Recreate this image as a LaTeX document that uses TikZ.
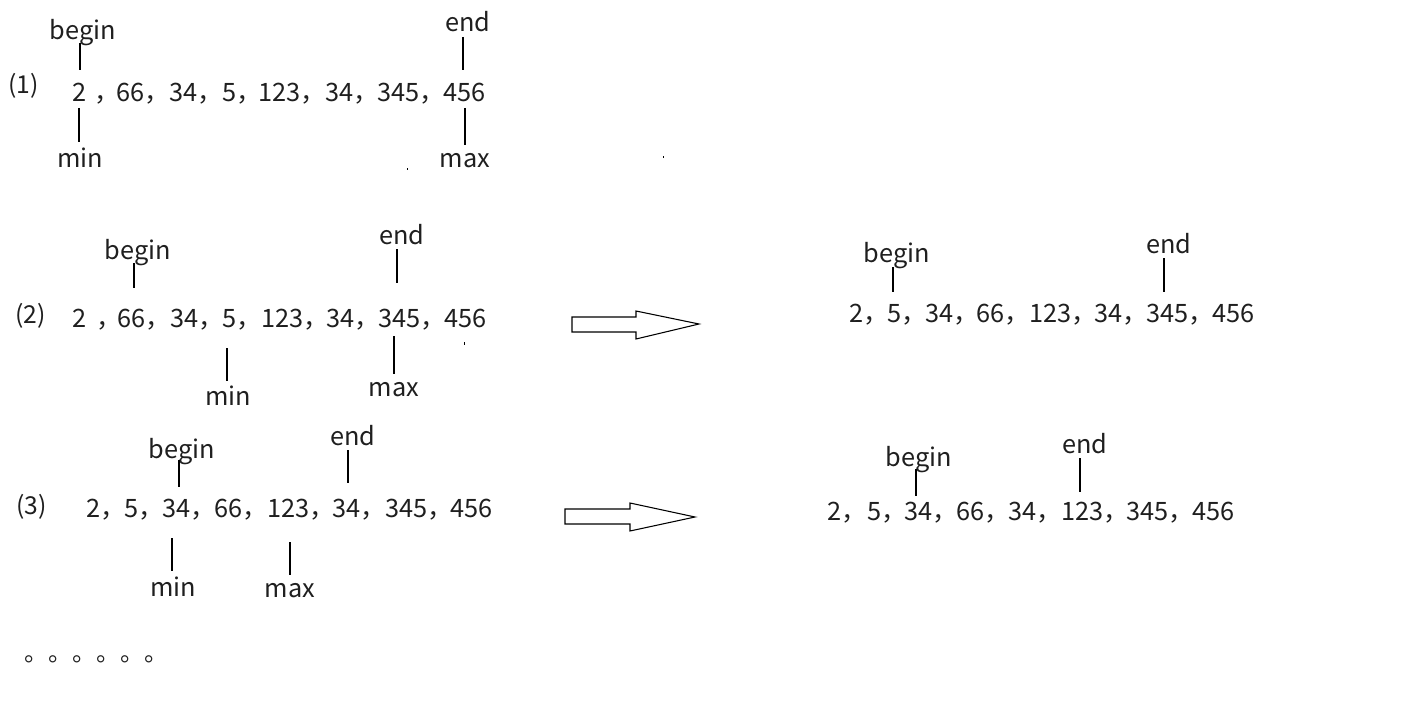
\documentclass[tikz,border=0pt]{standalone}
\usepackage{fontspec}
\setmainfont{Noto Sans CJK SC}
\begin{document}
\begin{tikzpicture}[x=0.75pt,y=-0.75pt,
  num/.style={anchor=base west,inner sep=0pt,font=\fontsize{19}{22}\selectfont,text=black!88},
  lbl/.style={anchor=base,inner sep=0pt,font=\fontsize{19}{22}\selectfont,text=black!88},
  idx/.style={anchor=base west,inner sep=0pt,font=\fontsize{18.5}{22}\selectfont,text=black!88},
  ptr/.style={line width=0.8pt},
  bigarrow/.style={line width=0.8pt,fill=white,line join=miter}]
\useasboundingbox (0,0) rectangle (1405,706);
% ---- row (1)
\node[idx] (i1) at (8,94) {(1)};
\node[num] (a1) at (72,102) {2\hspace{6pt}，};
\node[num] (a2) at (116,102) {66，};
\node[num] (a3) at (169,102) {34，};
\node[num] (a4) at (222,102) {5，};
\node[num] (a5) at (258,102) {123，};
\node[num] (a6) at (325,102) {34，};
\node[num] (a7) at (377,102) {345，};
\node[num] (a8) at (443,102) {456};
\node[lbl] (b1) at (83,40) {begin};
\node[lbl] (e1) at (468,32) {end};
\node[lbl] (m1) at (80,167) {min};
\node[lbl] (x1) at (465,167) {max};
\draw[ptr] (80,43) -- (80,70);
\draw[ptr] (463,37) -- (463,70);
\draw[ptr] (79,108) -- (79,142);
\draw[ptr] (465,108) -- (465,145);
\fill (406.5,168.5) rectangle (408,170);
\fill (662.5,156.5) rectangle (664,158);
% ---- row (2)
\node[idx] (i2) at (15,323) {(2)};
\node[num] (c1) at (72,327) {2\hspace{8pt}，};
\node[num] (c2) at (117,327) {66，};
\node[num] (c3) at (170,327) {34，};
\node[num] (c4) at (222,327) {5，};
\node[num] (c5) at (261,327) {123，};
\node[num] (c6) at (326,327) {34，};
\node[num] (c7) at (378,327) {345，};
\node[num] (c8) at (444,327) {456};
\node[lbl] (b2) at (138,259) {begin};
\node[lbl] (e2) at (402,244) {end};
\node[lbl] (m2) at (228,405) {min};
\node[lbl] (x2) at (394,396) {max};
\draw[ptr] (134,263) -- (134,288);
\draw[ptr] (397,249) -- (397,283);
\draw[ptr] (227,348) -- (227,381);
\draw[ptr] (394,336) -- (394,374);
\draw[line width=0.6pt] (464,342) -- (464,345);
% ---- row (3)
\node[idx] (i3) at (16,514) {(3)};
\node[num] (d1) at (86,517) {2，};
\node[num] (d2) at (124,517) {5，};
\node[num] (d3) at (162,517) {34，};
\node[num] (d4) at (214,517) {66，};
\node[num] (d5) at (267,517) {123，};
\node[num] (d6) at (332,517) {34，};
\node[num] (d7) at (385,517) {345，};
\node[num] (d8) at (450,517) {456};
\node[lbl] (b3) at (182,458) {begin};
\node[lbl] (e3) at (353,445) {end};
\node[lbl] (m3) at (173,596) {min};
\node[lbl] (x3) at (290,597) {max};
\draw[ptr] (179,460) -- (179,487);
\draw[ptr] (348,450) -- (348,483);
\draw[ptr] (172,538) -- (172,571);
\draw[ptr] (290,542) -- (290,575);
% ---- arrows
\draw[bigarrow] (572,317) -- (636,317) -- (636,311) -- (699,324) -- (636,339) -- (636,332) -- (572,332) -- cycle;
\draw[bigarrow] (565,509) -- (630,509) -- (630,503) -- (695,517) -- (630,531) -- (630,524) -- (565,524) -- cycle;
% ---- right row 1
\node[num] (f1) at (849,322) {2，};
\node[num] (f2) at (887,322) {5，};
\node[num] (f3) at (925,322) {34，};
\node[num] (f4) at (976,322) {66，};
\node[num] (f5) at (1029,322) {123，};
\node[num] (f6) at (1094,322) {34，};
\node[num] (f7) at (1146,322) {345，};
\node[num] (f8) at (1212,322) {456};
\node[lbl] (b4) at (897,262) {begin};
\node[lbl] (e4) at (1169,253) {end};
\draw[ptr] (893,267) -- (893,292);
\draw[ptr] (1164,258) -- (1164,292);
% ---- right row 2
\node[num] (g1) at (827,520) {2，};
\node[num] (g2) at (867,520) {5，};
\node[num] (g3) at (904,520) {34，};
\node[num] (g4) at (956,520) {66，};
\node[num] (g5) at (1008,520) {34，};
\node[num] (g6) at (1061,520) {123，};
\node[num] (g7) at (1126,520) {345，};
\node[num] (g8) at (1192,520) {456};
\node[lbl] (b5) at (919,466) {begin};
\node[lbl] (e5) at (1085,453) {end};
\draw[ptr] (916,469) -- (916,496);
\draw[ptr] (1080,458) -- (1080,492);
% ---- ellipsis
\node[anchor=base west,inner sep=0pt,font=\fontsize{18}{20}\selectfont,text=black!88] (dots) at (24,661) {。。。。。。};
\end{tikzpicture}
\end{document}
